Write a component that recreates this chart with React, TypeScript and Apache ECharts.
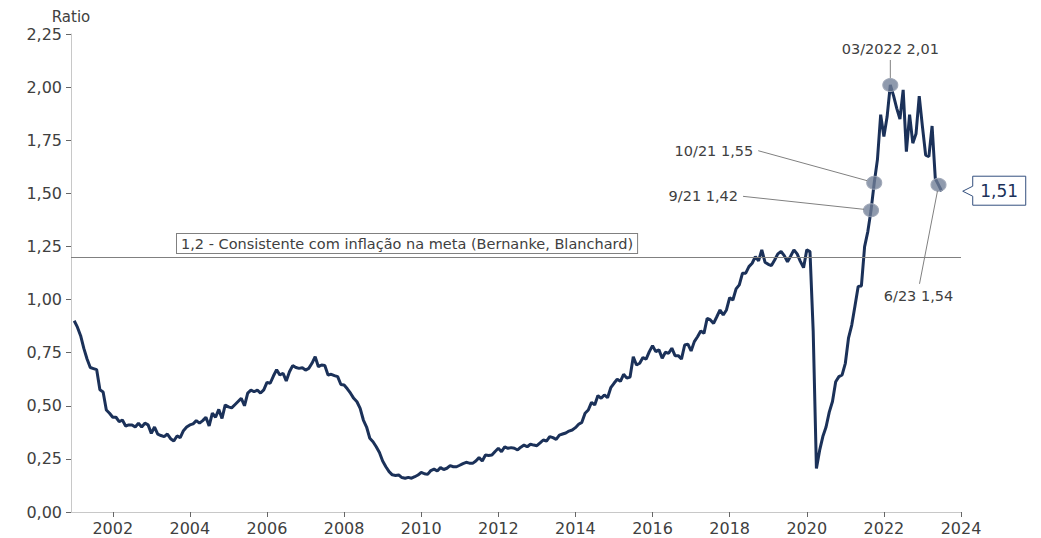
import React, { useEffect, useRef } from 'react';
import * as echarts from 'echarts';

const START_YEAR = 2001;

// Monthly ratio, Jan 2001 .. Jul 2023
const ratio = [
  0.90, 0.87, 0.83, 0.77, 0.72, 0.68, 0.675, 0.67, 0.575, 0.565, 0.48, 0.465, // 2001
  0.446, 0.446, 0.425, 0.433, 0.405, 0.41, 0.41, 0.40, 0.418, 0.40, 0.418, 0.41, // 2002
  0.37, 0.40, 0.367, 0.36, 0.355, 0.367, 0.345, 0.334, 0.358, 0.35, 0.383, 0.40, // 2003
  0.41, 0.415, 0.43, 0.418, 0.43, 0.446, 0.405, 0.465, 0.446, 0.483, 0.44, 0.504, // 2004
  0.495, 0.49, 0.505, 0.52, 0.535, 0.50, 0.56, 0.574, 0.566, 0.574, 0.56, 0.575, // 2005
  0.61, 0.606, 0.64, 0.67, 0.645, 0.653, 0.617, 0.66, 0.689, 0.68, 0.676, 0.679, // 2006
  0.668, 0.676, 0.70, 0.731, 0.684, 0.692, 0.69, 0.645, 0.648, 0.642, 0.637, 0.60, // 2007
  0.598, 0.58, 0.559, 0.535, 0.519, 0.488, 0.433, 0.40, 0.347, 0.331, 0.307, 0.28, // 2008
  0.24, 0.213, 0.19, 0.175, 0.172, 0.174, 0.162, 0.159, 0.163, 0.159, 0.166, 0.174, // 2009
  0.187, 0.18, 0.177, 0.195, 0.202, 0.193, 0.209, 0.20, 0.206, 0.218, 0.213, 0.213, // 2010
  0.22, 0.228, 0.234, 0.23, 0.229, 0.24, 0.256, 0.24, 0.268, 0.266, 0.268, 0.285, // 2011
  0.30, 0.284, 0.307, 0.30, 0.303, 0.30, 0.292, 0.305, 0.315, 0.307, 0.319, 0.315, // 2012
  0.312, 0.325, 0.339, 0.334, 0.355, 0.35, 0.342, 0.362, 0.367, 0.372, 0.381, 0.386, // 2013
  0.397, 0.413, 0.422, 0.465, 0.48, 0.516, 0.504, 0.548, 0.535, 0.551, 0.538, 0.585, // 2014
  0.606, 0.625, 0.615, 0.648, 0.63, 0.635, 0.731, 0.692, 0.70, 0.727, 0.72, 0.755, // 2015
  0.783, 0.755, 0.763, 0.724, 0.752, 0.747, 0.771, 0.736, 0.736, 0.72, 0.786, 0.79, // 2016
  0.758, 0.802, 0.825, 0.852, 0.841, 0.912, 0.904, 0.888, 0.919, 0.951, 0.927, 0.951, // 2017
  1.009, 0.998, 1.05, 1.069, 1.124, 1.124, 1.155, 1.171, 1.202, 1.182, 1.234, 1.176, // 2018
  1.166, 1.16, 1.186, 1.215, 1.226, 1.207, 1.178, 1.205, 1.234, 1.215, 1.18, 1.15, // 2019
  1.234, 1.226, 0.85, 0.205, 0.29, 0.355, 0.40, 0.47, 0.52, 0.613, 0.637, 0.645, // 2020
  0.70, 0.82, 0.88, 0.97, 1.062, 1.064, 1.249, 1.32, 1.42, 1.55, 1.66, 1.87, // 2021
  1.767, 1.86, 2.01, 1.96, 1.90, 1.85, 1.987, 1.696, 1.87, 1.736, 1.78, 1.958, // 2022
  1.814, 1.68, 1.673, 1.817, 1.57, 1.54, 1.51, // 2023
];

const xTickYears = [2002, 2004, 2006, 2008, 2010, 2012, 2014, 2016, 2018, 2020, 2022, 2024];
const X_MIN = 2000.917;
const X_MAX = 2024;
const Y_MIN = 0;
const Y_MAX = 2.25;
const Y_STEP = 0.25;

const targetValue = 1.2;
const targetLabel = '1,2 - Consistente com inflação na meta (Bernanke, Blanchard)';

// annotated points
const annotYears = [2022, 2021, 2021, 2023];
const annotMonths = [3, 10, 9, 6];
const annotLabels = ['03/2022 2,01', '10/21 1,55', '9/21 1,42', '6/23 1,54'];

const lastLabel = '1,51';

const FONT = '"DejaVu Sans", Verdana, sans-serif';
const LINE_COLOR = '#1b3159';
const TEXT_COLOR = '#404040';

const fmt = (v: number) => v.toFixed(2).replace('.', ',');

export default function App() {
  const ref = useRef<HTMLDivElement>(null);

  useEffect(() => {
    const chart = echarts.init(ref.current as HTMLDivElement, null, { renderer: 'svg' });
    const data = ratio.map((v, i) => [START_YEAR + i / 12, v]);
    const annotIdx = annotYears.map((y, k) => (y - START_YEAR) * 12 + annotMonths[k] - 1);

    chart.setOption({
      animation: false,
      textStyle: { fontFamily: FONT },
      grid: { left: 71, right: 80, top: 34, bottom: 26 },
      xAxis: {
        type: 'value',
        min: X_MIN,
        max: X_MAX,
        splitLine: { show: false },
        axisLine: { show: true, lineStyle: { color: '#c8c8c8', width: 1 } },
        axisTick: { show: true, length: 5, lineStyle: { color: '#666' }, customValues: xTickYears },
        axisLabel: {
          customValues: xTickYears,
          formatter: (v: number) => String(Math.round(v)),
          fontSize: 16,
          color: TEXT_COLOR,
          fontFamily: FONT,
          margin: 8,
        },
      },
      yAxis: {
        type: 'value',
        min: Y_MIN,
        max: Y_MAX,
        interval: Y_STEP,
        name: 'Ratio',
        nameLocation: 'end',
        nameGap: 10,
        nameTextStyle: { fontSize: 15, color: TEXT_COLOR, fontFamily: FONT, align: 'center' },
        splitLine: { show: false },
        axisLine: { show: true, lineStyle: { color: '#c8c8c8', width: 1 } },
        axisTick: { show: true, length: 5, lineStyle: { color: '#666' } },
        axisLabel: { formatter: fmt, fontSize: 16, color: TEXT_COLOR, fontFamily: FONT, margin: 9 },
      },
      series: [
        {
          type: 'line',
          data,
          showSymbol: false,
          symbol: 'none',
          lineStyle: { color: LINE_COLOR, width: 3 },
          z: 3,
          markLine: {
            silent: true,
            symbol: 'none',
            label: { show: false },
            lineStyle: { color: '#808080', width: 1, type: 'solid' },
            data: [{ yAxis: targetValue }],
          },
          markPoint: {
            silent: true,
            symbol: 'circle',
            symbolSize: [15, 13],
            itemStyle: { color: 'rgba(112,126,150,0.78)', borderColor: '#a0a8b8', borderWidth: 1 },
            label: { show: false },
            data: annotIdx.map((i) => ({ coord: data[i] })),
          },
        },
      ],
    });

    const P = (i: number) => chart.convertToPixel({ gridIndex: 0 }, data[i]) as number[];
    const textStyle = (text: string, x: number, y: number, align: string) => ({
      text,
      x,
      y,
      align,
      verticalAlign: 'middle',
      textAlign: align,
      textVerticalAlign: 'middle',
      font: `14.5px ${FONT}`,
      fill: TEXT_COLOR,
    });
    const leader = (x1: number, y1: number, x2: number, y2: number) => ({
      type: 'line',
      silent: true,
      shape: { x1, y1, x2, y2 },
      style: { stroke: '#808080', lineWidth: 1 },
      z: 10,
    });

    const g: any[] = [];
    {
      const [x, y] = P(annotIdx[0]);
      g.push({ type: 'text', style: textStyle(annotLabels[0], x, y - 36, 'center'), z: 10 });
      g.push(leader(x, y - 25, x, y - 7));
    }
    {
      const [x, y] = P(annotIdx[1]);
      g.push({ type: 'text', style: textStyle(annotLabels[1], x - 121, y - 32, 'right'), z: 10 });
      g.push(leader(x - 116, y - 32, x - 7, y - 2));
    }
    {
      const [x, y] = P(annotIdx[2]);
      g.push({ type: 'text', style: textStyle(annotLabels[2], x - 133, y - 14, 'right'), z: 10 });
      g.push(leader(x - 128, y - 14, x - 7, y - 1));
    }
    {
      const [x, y] = P(annotIdx[3]);
      g.push({ type: 'text', style: textStyle(annotLabels[3], x - 20, y + 111, 'center'), z: 10 });
      g.push(leader(x - 19, y + 99, x - 1, y + 6));
    }
    {
      const [gx, ty] = chart.convertToPixel({ gridIndex: 0 }, [X_MIN, targetValue]) as number[];
      g.push({
        type: 'text',
        z: 10,
        style: {
          text: targetLabel,
          x: gx + 106,
          y: ty - 4,
          align: 'left',
          verticalAlign: 'bottom',
          textAlign: 'left',
          textVerticalAlign: 'bottom',
          font: `14.5px ${FONT}`,
          fill: TEXT_COLOR,
          backgroundColor: '#ffffff',
          borderColor: '#808080',
          borderWidth: 1,
          padding: [2, 4, 2, 4],
        },
      });
    }
    {
      const [x, y] = P(ratio.length - 1);
      const bx = x + 31;
      const bw = 53;
      g.push({
        type: 'polygon',
        z: 10,
        shape: {
          points: [
            [bx, y - 15],
            [bx + bw, y - 15],
            [bx + bw, y + 14],
            [bx, y + 14],
            [bx, y + 5],
            [x + 21, y],
            [bx, y - 5],
          ],
        },
        style: { fill: '#ffffff', stroke: '#34507e', lineWidth: 1 },
      });
      g.push({
        type: 'text',
        z: 11,
        style: {
          text: lastLabel,
          x: bx + bw / 2,
          y: y,
          align: 'center',
          verticalAlign: 'middle',
          textAlign: 'center',
          textVerticalAlign: 'middle',
          font: `17px ${FONT}`,
          fill: LINE_COLOR,
        },
      });
    }
    chart.setOption({ graphic: g });

    return () => chart.dispose();
  }, []);

  return (
    <div
      ref={ref}
      style={{ position: 'fixed', left: 0, top: 0, width: 1041, height: 538, background: '#fff' }}
    />
  );
}
